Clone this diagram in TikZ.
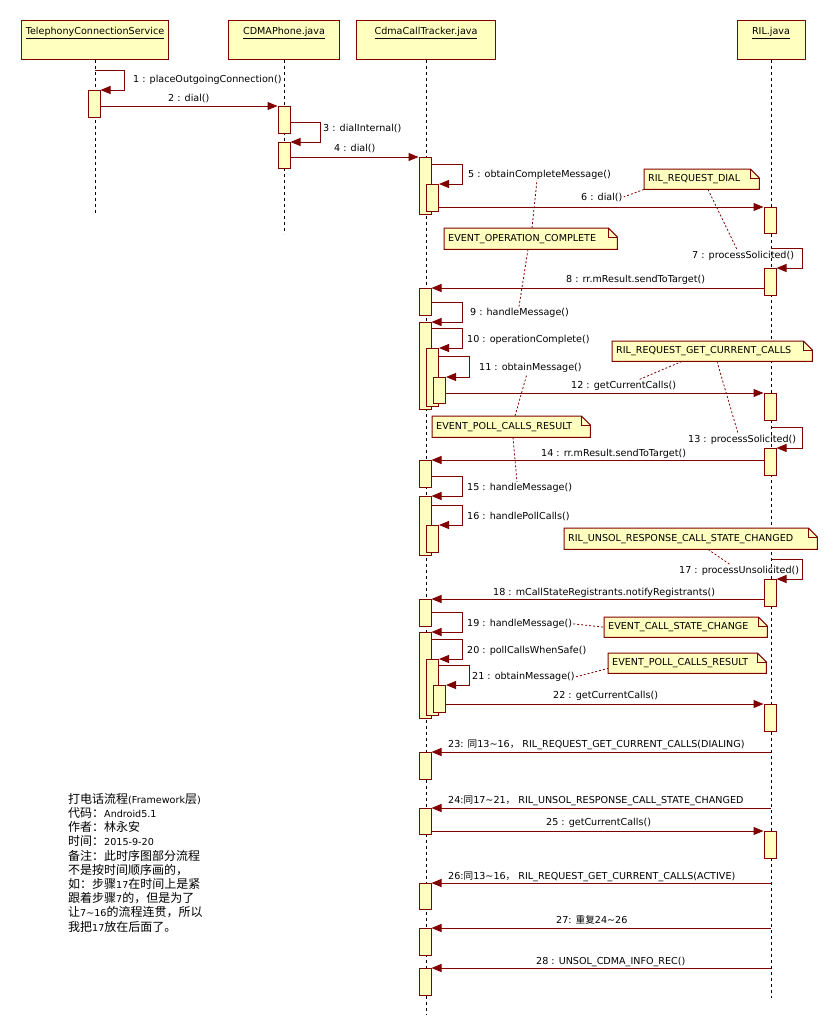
\documentclass[tikz,border=0pt]{standalone}
\usepackage{fontspec}
\setmainfont{DejaVu Sans}
\newfontfamily\cjk{Noto Sans CJK SC}
\usetikzlibrary{arrows.meta}
\definecolor{dred}{HTML}{800000}
\definecolor{boxfill}{HTML}{FFFFC0}
\pgfdeclarelayer{back}
\pgfdeclarelayer{notelayer}
\pgfsetlayers{back,notelayer,main}
\newcommand\zh[1]{{\cjk #1}}
\newcommand\zhb[1]{{\cjk\fontsize{12}{14.2}\selectfont #1}}
\newcommand\notefold[1]{%
  \begin{pgfonlayer}{notelayer}
  \filldraw[draw=dred, fill=boxfill, line width=1pt] (#1.south west) -- (#1.north west) -- ([xshift=-9pt]#1.north east) -- ([yshift=-9pt]#1.north east) -- (#1.south east) -- cycle;
  \end{pgfonlayer}
  \draw[dred, line width=0.8pt] ([xshift=-9pt]#1.north east) |- ([yshift=-9pt]#1.north east);}
\newcommand\actb[4]{\node[actbox, minimum height={#4-#3}] (#1) at (#2,#3) {};}
\tikzset{
  actbox/.style={draw=dred, fill=boxfill, line width=1pt, minimum width=12pt, inner sep=0pt, anchor=north},
  msg/.style={draw=dred, line width=1pt, -{Triangle[length=10pt,width=8pt]}},
  lbl/.style={inner sep=1pt, anchor=base west, font=\fontsize{9.6}{11}\selectfont},
  head/.style={draw=dred, fill=boxfill, line width=1pt, anchor=north, inner xsep=2pt, inner ysep=0pt, text height=14pt, text depth=25pt, font=\fontsize{9.6}{11}\selectfont},
  life/.style={black, line width=1pt, dash pattern=on 3pt off 3pt},
  note/.style={anchor=north west, inner xsep=4pt, inner ysep=0pt, align=left, font=\fontsize{9.6}{11}\selectfont},
  link/.style={dred, line width=0.8pt, dash pattern=on 2pt off 2pt},
}
\begin{document}
\begin{tikzpicture}[x=1pt,y=-1pt]
\useasboundingbox (0,0) rectangle (837,1036);
% headers
\node[head, minimum width=147pt] (tcs) at (95,20) {\underline{TelephonyConnectionService}};
\node[head, minimum width=111pt] (cdma) at (284,20) {\underline{CDMAPhone.java}};
\node[head, minimum width=139pt] (cct) at (426,20) {\underline{CdmaCallTracker.java}};
\node[head, minimum width=68pt] (ril) at (771,20) {\underline{RIL.java}};
\coordinate (tcsend) at (95,213);
\coordinate (cdmaend) at (284,234);
\coordinate (cctend) at (426,1015);
\coordinate (rilend) at (771,998);
\begin{pgfonlayer}{back}
\fill[white] (0,0) rectangle (837,1036);
\draw[life] (tcs.south) -- (tcsend);
\draw[life] (cdma.south) -- (cdmaend);
\draw[life] (cct.south) -- (cctend);
\draw[life] (ril.south) -- (rilend);
\end{pgfonlayer}
% activation boxes
\actb{t1}{94}{90}{117}
\actb{p1}{284}{106}{133}
\actb{p2}{284}{142}{168}
\actb{c1}{425}{157}{214}
\actb{c2}{432.5}{184}{211}
\actb{c3}{425}{288}{315}
\actb{c4}{425}{322}{409}
\actb{c5}{432.5}{348}{406}
\actb{c6}{439.5}{377}{403}
\actb{c7}{425}{460}{487}
\actb{c8}{425}{496}{555}
\actb{c9}{432.5}{525}{552}
\actb{c10}{425}{599}{626}
\actb{c11}{425}{632}{718}
\actb{c12}{432.5}{659}{715}
\actb{c13}{439.5}{685}{712}
\actb{c14}{425}{752}{779}
\actb{c15}{425}{808}{834}
\actb{c16}{425}{883}{909}
\actb{c17}{425}{928}{955}
\actb{c18}{425}{968}{995}
\actb{r1}{770}{207}{233}
\actb{r2}{770}{268}{295}
\actb{r3}{770}{393}{420}
\actb{r4}{770}{448}{475}
\actb{r5}{770}{579}{606}
\actb{r6}{770}{704}{731}
\actb{r7}{770}{831}{858}
% messages
\draw[msg] (tcs.south |- 0,70) -- (124,70) -- (124,90) -- (t1.north east);
\draw[msg] (t1.east |- p1.north) -- (p1.north west);
\draw[msg] (p1.east |- 0,122) -- (320,122) -- (320,142) -- (p2.north east);
\draw[msg] (p2.east |- c1.north) -- (c1.north west);
\draw[msg] (c1.east |- 0,164) -- (462,164) -- (462,184) -- (c2.north east);
\draw[msg] (c2.east |- r1.north) -- (r1.north west);
\draw[msg] (ril.south |- 0,248) -- (802,248) -- (802,268) -- (r2.north east);
\draw[msg] (r2.west |- c3.north) -- (c3.north east);
\draw[msg] (c3.east |- 0,302) -- (462,302) -- (462,322) -- (c4.north east);
\draw[msg] (c4.east |- 0,328) -- (462,328) -- (462,348) -- (c5.north east);
\draw[msg] (c5.east |- 0,356) -- (469,356) -- (469,377) -- (c6.north east);
\draw[msg] (c6.east |- r3.north) -- (r3.north west);
\draw[msg] (ril.south |- 0,427) -- (802,427) -- (802,448) -- (r4.north east);
\draw[msg] (r4.west |- c7.north) -- (c7.north east);
\draw[msg] (c7.east |- 0,476) -- (462,476) -- (462,496) -- (c8.north east);
\draw[msg] (c8.east |- 0,505) -- (462,505) -- (462,525) -- (c9.north east);
\draw[msg] (ril.south |- 0,559) -- (802,559) -- (802,579) -- (r5.north east);
\draw[msg] (r5.west |- c10.north) -- (c10.north east);
\draw[msg] (c10.east |- 0,612) -- (462,612) -- (462,632) -- (c11.north east);
\draw[msg] (c11.east |- 0,639) -- (462,639) -- (462,659) -- (c12.north east);
\draw[msg] (c12.east |- 0,665) -- (469,665) -- (469,685) -- (c13.north east);
\draw[msg] (c13.east |- r6.north) -- (r6.north west);
\draw[msg] (ril.south |- c14.north) -- (c14.north east);
\draw[msg] (ril.south |- c15.north) -- (c15.north east);
\draw[msg] (c15.east |- r7.north) -- (r7.north west);
\draw[msg] (ril.south |- c16.north) -- (c16.north east);
\draw[msg] (ril.south |- c17.north) -- (c17.north east);
\draw[msg] (ril.south |- c18.north) -- (c18.north east);
% labels
\node[lbl] (l1) at (132,82.5) {1 : placeOutgoingConnection()};
\node[lbl] (l2) at (167,101.5) {2 : dial()};
\node[lbl] (l3) at (322,131) {3 : dialInternal()};
\node[lbl] (l4) at (333,151.5) {4 : dial()};
\node[lbl] (l5) at (467,177) {5 : obtainCompleteMessage()};
\node[lbl] (l6) at (580,200) {6 : dial()};
\node[lbl] (l7) at (691,258) {7 : processSolicited()};
\node[lbl] (l8) at (565,282.5) {8 : rr.mResult.sendToTarget()};
\node[lbl] (l9) at (469,315) {9 : handleMessage()};
\node[lbl] (l10) at (466,342) {10 : operationComplete()};
\node[lbl] (l11) at (478,370.5) {11 : obtainMessage()};
\node[lbl] (l12) at (570,388.5) {12 : getCurrentCalls()};
\node[lbl] (l13) at (687,442) {13 : processSolicited()};
\node[lbl] (l14) at (540,456) {14 : rr.mResult.sendToTarget()};
\node[lbl] (l15) at (466,490.5) {15 : handleMessage()};
\node[lbl] (l16) at (466,519.5) {16 : handlePollCalls()};
\node[lbl] (l17) at (678,573) {17 : processUnsolicited()};
\node[lbl] (l18) at (492,595) {18 : mCallStateRegistrants.notifyRegistrants()};
\node[lbl] (l19) at (466,626.5) {19 : handleMessage()};
\node[lbl] (l20) at (466,653.5) {20 : pollCallsWhenSafe()};
\node[lbl] (l21) at (471,679.5) {21 : obtainMessage()};
\node[lbl] (l22) at (552,698.5) {22 : getCurrentCalls()};
\node[lbl] (l23) at (447,747) {23: \zh{同}13\textasciitilde16\zh{，} RIL\_REQUEST\_GET\_CURRENT\_CALLS(DIALING)};
\node[lbl] (l24) at (447,803) {24:\zh{同}17\textasciitilde21\zh{，} RIL\_UNSOL\_RESPONSE\_CALL\_STATE\_CHANGED};
\node[lbl] (l25) at (545,825.5) {25 : getCurrentCalls()};
\node[lbl] (l26) at (447,879) {26:\zh{同}13\textasciitilde16\zh{，} RIL\_REQUEST\_GET\_CURRENT\_CALLS(ACTIVE)};
\node[lbl] (l27) at (555,923) {27: \zh{重复}24\textasciitilde26};
\node[lbl] (l28) at (535,964) {28 : UNSOL\_CDMA\_INFO\_REC()};
% notes
\node[note, text width=107pt, minimum height=20pt] (n1) at (644,169) {RIL\_REQUEST\_DIAL};
\notefold{n1}
\node[note, text width=165pt, minimum height=21pt] (n2) at (444,228) {EVENT\_OPERATION\_COMPLETE};
\notefold{n2}
\node[note, text width=192pt, minimum height=20pt] (n3) at (612,341) {RIL\_REQUEST\_GET\_CURRENT\_CALLS};
\notefold{n3}
\node[note, text width=150pt, minimum height=21pt] (n4) at (432,416) {EVENT\_POLL\_CALLS\_RESULT};
\notefold{n4}
\node[note, text width=245pt, minimum height=21pt] (n5) at (564,528) {RIL\_UNSOL\_RESPONSE\_CALL\_STATE\_CHANGED};
\notefold{n5}
\node[note, text width=155pt, minimum height=20pt] (n6) at (604,617) {EVENT\_CALL\_STATE\_CHANGE};
\notefold{n6}
\node[note, text width=150pt, minimum height=20pt] (n7) at (608,653) {EVENT\_POLL\_CALLS\_RESULT};
\notefold{n7}
% note links
\draw[link] (n1.south west) -- (l6.east);
\draw[link] (n1.south -| 708,0) -- (l7.north -| 737,0);
\draw[link] (n2.north -| 532,0) -- (l5.south -| 537,0);
\draw[link] (n2.south -| 528,0) -- (l9.north -| 519,0);
\draw[link] (n3.south -| 682,0) -- (l12.north -| 638,0);
\draw[link] (n3.south -| 717,0) -- (l13.north -| 738,0);
\draw[link] (n4.north -| 515,0) -- (l11.south -| 527,0);
\draw[link] (n4.south -| 513,0) -- (l15.north -| 517,0);
\draw[link] (n5.south -| 708,0) -- (l17.north -| 730,0);
\draw[link] (l19.east) -- (n6.west);
\draw[link] (l21.east) -- ([yshift=5pt]n7.south west);
% comment block
\node[anchor=north west, inner sep=0pt, align=left, font=\fontsize{9.6}{14.2}\selectfont] (memo) at (68,793)
{\zhb{打电话流程}(Framework\zhb{层})\\
\zhb{代码：}Android5.1\\
\zhb{作者：林永安}\\
\zhb{时间：}2015-9-20\\
\zhb{备注：此时序图部分流程}\\
\zhb{不是按时间顺序画的，}\\
\zhb{如：步骤}17\zhb{在时间上是紧}\\
\zhb{跟着步骤}7\zhb{的，但是为了}\\
\zhb{让}7\textasciitilde16\zhb{的流程连贯，所以}\\
\zhb{我把}17\zhb{放在后面了。}};
\end{tikzpicture}
\end{document}
